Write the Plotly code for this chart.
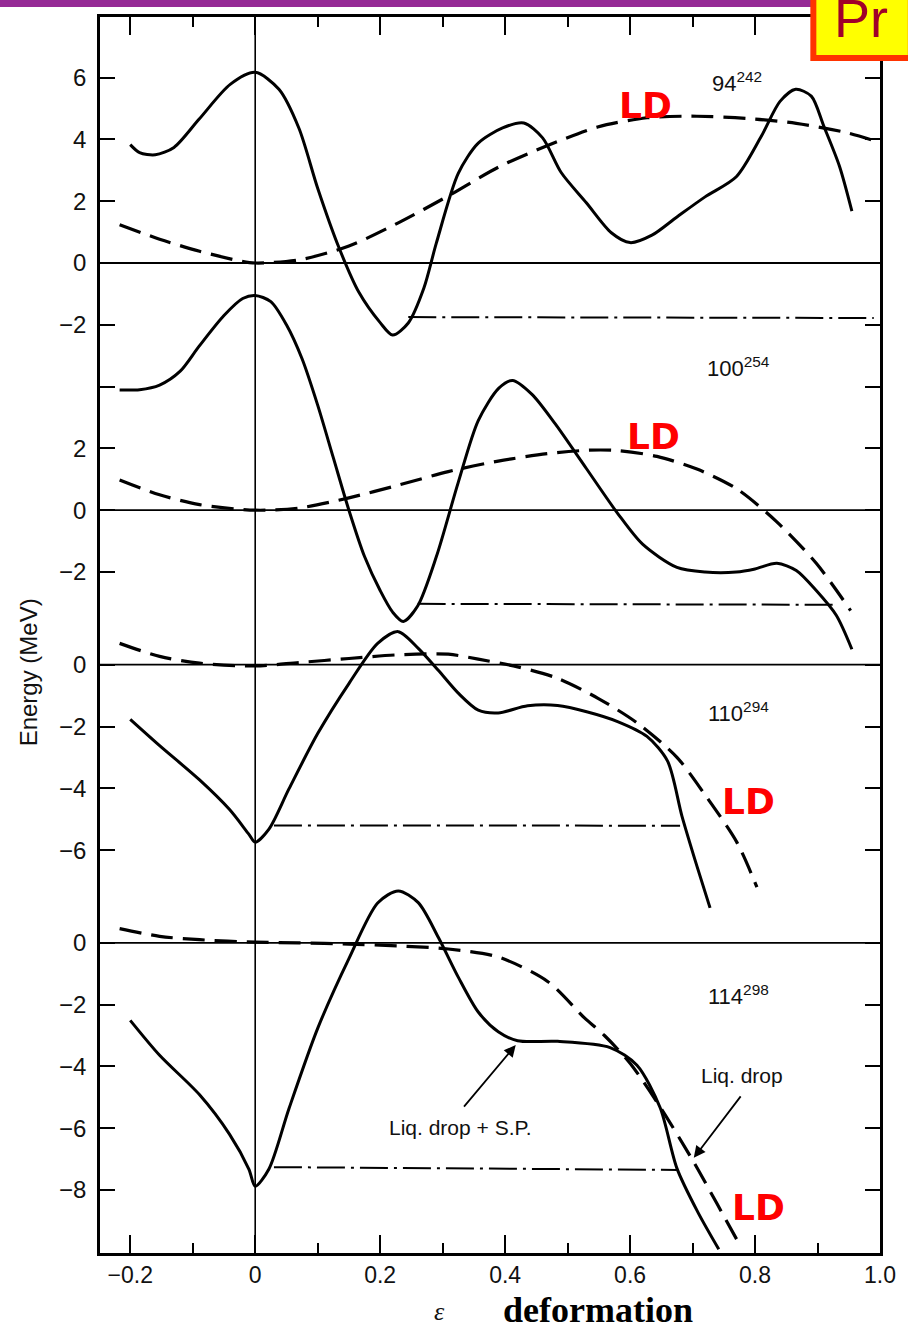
import plotly.graph_objects as go

# ---------------- data (x = deformation epsilon, E in MeV relative to each panel's zero) -------------
panel_names = ["94<sup>242</sup>", "100<sup>254</sup>", "110<sup>294</sup>", "114<sup>298</sup>"]
panel_offsets = [0, -8, -13, -22]
panel_ticks = [[6, 4, 2, 0, -2], [4, 2, 0, -2], [0, -2, -4, -6], [0, -2, -4, -6, -8]]
panel_ticklabels = [["6", "4", "2", "0", "−2"], ["", "2", "0", "−2"],
                    ["0", "−2", "−4", "−6"], ["0", "−2", "−4", "−6", "−8"]]

# Panel 1: 94-242
p1_sp_x = [-0.2, -0.185, -0.16, -0.13, -0.09, -0.04, 0.0, 0.038, 0.07, 0.10, 0.134, 0.166, 0.2, 0.22,
           0.245, 0.27, 0.29, 0.325, 0.357, 0.396, 0.43, 0.46, 0.49, 0.53, 0.57, 0.6, 0.635, 0.675,
           0.72, 0.77, 0.81, 0.84, 0.865, 0.89, 0.91, 0.935, 0.955]
p1_sp_e = [3.83, 3.57, 3.5, 3.74, 4.65, 5.78, 6.17, 5.62, 4.36, 2.42, 0.5, -0.95, -1.93, -2.33,
           -1.94, -0.81, 0.65, 2.9, 3.88, 4.37, 4.53, 4.05, 2.92, 1.95, 0.98, 0.66, 0.9, 1.49,
           2.14, 2.79, 4.1, 5.23, 5.62, 5.4, 4.43, 3.14, 1.68]
p1_ld_x = [-0.217, -0.153, -0.089, -0.025, 0.0, 0.07, 0.15, 0.229, 0.309, 0.389, 0.468, 0.548,
           0.627, 0.707, 0.787, 0.866, 0.946, 1.0]
p1_ld_e = [1.24, 0.77, 0.38, 0.07, 0.0, 0.1, 0.55, 1.3, 2.17, 3.1, 3.8, 4.4, 4.7, 4.75, 4.68,
           4.52, 4.22, 3.9]
p1_gs_x = [0.245, 0.99]
p1_gs_e = [-1.75, -1.78]

# Panel 2: 100-254
p2_sp_x = [-0.217, -0.185, -0.153, -0.12, -0.09, -0.05, -0.02, 0.0, 0.025, 0.05, 0.075, 0.1, 0.125,
           0.15, 0.175, 0.2, 0.22, 0.237, 0.26, 0.29, 0.325, 0.357, 0.39, 0.412, 0.443, 0.48,
           0.53, 0.58, 0.62, 0.675, 0.72, 0.77, 0.8, 0.835, 0.866, 0.898, 0.93, 0.955]
p2_sp_e = [3.89, 3.9, 4.05, 4.5, 5.3, 6.3, 6.85, 6.95, 6.75, 6.0, 4.9, 3.4, 1.7,
           0.0, -1.5, -2.6, -3.3, -3.6, -3.1, -1.5, 0.9, 2.9, 3.95, 4.2, 3.75, 2.8,
           1.35, -0.1, -1.1, -1.85, -2.0, -2.0, -1.9, -1.72, -1.95, -2.6, -3.4, -4.5]
p2_ld_x = [-0.217, -0.153, -0.089, 0.0, 0.07, 0.15, 0.229, 0.309, 0.389, 0.468, 0.532, 0.58,
           0.643, 0.707, 0.77, 0.834, 0.898, 0.953]
p2_ld_e = [0.98, 0.5, 0.18, 0.0, 0.07, 0.4, 0.81, 1.25, 1.59, 1.83, 1.94, 1.93, 1.74, 1.33,
           0.7, -0.36, -1.72, -3.25]
p2_gs_x = [0.26, 0.93]
p2_gs_e = [-3.03, -3.06]

# Panel 3: 110-294
p3_sp_x = [-0.2, -0.153, -0.089, -0.041, -0.01, 0.0, 0.022, 0.054, 0.1, 0.15, 0.196, 0.229,
           0.261, 0.293, 0.325, 0.357, 0.389, 0.436, 0.484, 0.532, 0.58, 0.627, 0.66, 0.683,
           0.707, 0.728]
p3_sp_e = [-1.77, -2.62, -3.73, -4.69, -5.49, -5.74, -5.32, -4.02, -2.23, -0.61, 0.69, 1.07,
           0.53, -0.18, -0.92, -1.47, -1.56, -1.33, -1.32, -1.53, -1.84, -2.32, -3.12, -4.9,
           -6.52, -7.87]
p3_ld_x = [-0.217, -0.153, -0.089, 0.0, 0.07, 0.15, 0.229, 0.309, 0.357, 0.42, 0.484, 0.548,
           0.611, 0.675, 0.723, 0.771, 0.803]
p3_ld_e = [0.69, 0.27, 0.05, -0.04, 0.07, 0.2, 0.32, 0.34, 0.18, -0.07, -0.44, -1.08, -1.88,
           -3.0, -4.3, -5.75, -7.2]
p3_gs_x = [0.03, 0.68]
p3_gs_e = [-5.2, -5.21]

# Panel 4: 114-298
p4_sp_x = [-0.2, -0.153, -0.089, -0.041, -0.01, 0.0, 0.022, 0.054, 0.1, 0.15, 0.196, 0.229,
           0.261, 0.293, 0.325, 0.357, 0.389, 0.42, 0.484, 0.568, 0.611, 0.648, 0.675, 0.708,
           0.742]
p4_sp_e = [-2.51, -3.64, -4.92, -6.2, -7.33, -7.88, -7.32, -5.37, -2.77, -0.51, 1.29, 1.68,
           1.3, 0.18, -1.11, -2.24, -2.88, -3.17, -3.19, -3.39, -3.96, -5.33, -7.3, -8.7,
           -9.92]
p4_ld_x = [-0.217, -0.153, -0.089, 0.0, 0.07, 0.15, 0.229, 0.309, 0.389, 0.468, 0.527, 0.559,
           0.6, 0.648, 0.702, 0.739, 0.774]
p4_ld_e = [0.46, 0.21, 0.1, 0.02, 0.0, -0.04, -0.1, -0.2, -0.46, -1.25, -2.43, -3.0, -3.9,
           -5.31, -7.1, -8.44, -9.72]
p4_gs_x = [0.03, 0.675]
p4_gs_e = [-7.26, -7.35]

x_ticks = [-0.2, 0.0, 0.2, 0.4, 0.6, 0.8, 1.0]
x_ticklabels = ["−0.2", "0", "0.2", "0.4", "0.6", "0.8", "1.0"]
x_minor = [-0.1, 0.1, 0.3, 0.5, 0.7, 0.9]

ld_label_pos = [(0.624, 5.11), (0.637, 2.37), (0.79, -4.44), (0.806, -8.58)]
name_label_pos = [(0.771, 5.86), (0.774, 4.63), (0.774, -1.53), (0.774, -1.69)]

solid = [(p1_sp_x, p1_sp_e), (p2_sp_x, p2_sp_e), (p3_sp_x, p3_sp_e), (p4_sp_x, p4_sp_e)]
ldrop = [(p1_ld_x, p1_ld_e), (p2_ld_x, p2_ld_e), (p3_ld_x, p3_ld_e), (p4_ld_x, p4_ld_e)]
gstate = [(p1_gs_x, p1_gs_e), (p2_gs_x, p2_gs_e), (p3_gs_x, p3_gs_e), (p4_gs_x, p4_gs_e)]

# ---------------- figure -------------
W, H = 908, 1328
ML, MR, MT, MB = 100, 24, 17, 75
fig = go.Figure()

for k in range(4):
    off = panel_offsets[k]
    sx, se = solid[k]
    lx, le = ldrop[k]
    gx, ge = gstate[k]
    fig.add_trace(go.Scatter(x=sx, y=[e + off for e in se], mode="lines",
                             line=dict(color="black", width=3, shape="spline", smoothing=0.8),
                             showlegend=False, hoverinfo="skip"))
    fig.add_trace(go.Scatter(x=lx, y=[e + off for e in le], mode="lines",
                             line=dict(color="black", width=3.2, dash="22px,10px", shape="spline",
                                       smoothing=0.8),
                             showlegend=False, hoverinfo="skip"))
    fig.add_trace(go.Scatter(x=gx, y=[e + off for e in ge], mode="lines",
                             line=dict(color="black", width=2, dash="28px,6px,3px,6px"),
                             showlegend=False, hoverinfo="skip"))
    # zero line of panel
    fig.add_shape(type="line", xref="paper", yref="y", x0=0, x1=1, y0=off, y1=off,
                  line=dict(color="black", width=1.8), layer="below")
    lxp, lyp = ld_label_pos[k]
    fig.add_annotation(x=lxp, y=lyp + off, xref="x", yref="y", text="<b>LD</b>", showarrow=False,
                       xanchor="center", yanchor="middle",
                       font=dict(family="DejaVu Sans", size=36, color="#ff0000"))
    nxp, nyp = name_label_pos[k]
    fig.add_annotation(x=nxp, y=nyp + off, xref="x", yref="y", text=panel_names[k], showarrow=False,
                       xanchor="center", yanchor="middle",
                       font=dict(family="Liberation Sans", size=22, color="#111"))

# vertical line at epsilon = 0
fig.add_shape(type="line", xref="x", yref="paper", x0=0, x1=0, y0=0, y1=1,
              line=dict(color="black", width=1.6), layer="below")

# dummy trace for top/right axes
fig.add_trace(go.Scatter(x=[-0.2], y=[0], xaxis="x2", yaxis="y2", mode="lines",
                         line=dict(width=0), showlegend=False, hoverinfo="skip"))

# y ticks (global coordinates)
y_tickvals, y_ticktext = [], []
for k in range(4):
    for t, lab in zip(panel_ticks[k], panel_ticklabels[k]):
        v = t + panel_offsets[k]
        if v not in y_tickvals:
            y_tickvals.append(v)
            y_ticktext.append(lab)

px_per_unit_y = 30.9
plot_h = H - MT - MB
y_top = (263 - MT) / px_per_unit_y
y_bot = y_top - plot_h / px_per_unit_y
tickfont = dict(family="Liberation Sans", size=24, color="#111")
xtickfont = dict(family="Liberation Sans", size=23, color="#111")

fig.update_layout(
    width=W, height=H, margin=dict(l=ML, r=MR, t=MT, b=MB),
    paper_bgcolor="white", plot_bgcolor="white", showlegend=False,
    xaxis=dict(range=[-0.2484, 1.0], showgrid=False, zeroline=False, showline=True,
               linecolor="black", linewidth=2.5, ticks="inside", ticklen=18, tickwidth=2,
               tickcolor="black", tickmode="array", tickvals=x_ticks, ticktext=x_ticklabels,
               tickfont=xtickfont, ticklabelstandoff=0,
               minor=dict(ticks="inside", ticklen=10, tickwidth=2, tickcolor="black",
                          tickmode="array", tickvals=x_minor, showgrid=False)),
    xaxis2=dict(overlaying="x", side="top", matches="x", showgrid=False, zeroline=False,
                showline=True, linecolor="black", linewidth=2.5, ticks="inside", ticklen=18,
                tickwidth=2, tickcolor="black", tickmode="array", tickvals=x_ticks,
                showticklabels=False,
                minor=dict(ticks="inside", ticklen=10, tickwidth=2, tickcolor="black",
                           tickmode="array", tickvals=x_minor, showgrid=False)),
    yaxis=dict(range=[y_bot, y_top], showgrid=False, zeroline=False, showline=True,
               linecolor="black", linewidth=2.5, ticks="inside", ticklen=15, tickwidth=2,
               tickcolor="black", tickmode="array", tickvals=y_tickvals, ticktext=y_ticktext,
               tickfont=tickfont, ticklabelstandoff=6),
    yaxis2=dict(overlaying="y", side="right", matches="y", showgrid=False, zeroline=False,
                showline=True, linecolor="black", linewidth=2.5, ticks="inside", ticklen=15,
                tickwidth=2, tickcolor="black", tickmode="array", tickvals=y_tickvals,
                showticklabels=False),
)

def px2paper_x(px):
    return (px - ML) / (W - ML - MR)

def px2paper_y(py):
    return (H - MB - py) / plot_h

# axis titles
fig.add_annotation(x=px2paper_x(29), y=px2paper_y(672), xref="paper", yref="paper",
                   xanchor="center", yanchor="middle",
                   text="Energy (MeV)", textangle=-90, showarrow=False,
                   font=dict(family="Liberation Sans", size=24, color="#111"))
fig.add_annotation(x=px2paper_x(441), y=px2paper_y(1311), xref="paper", yref="paper",
                   xanchor="center", yanchor="middle",
                   text="<i>ε</i>", showarrow=False,
                   font=dict(family="Liberation Serif", size=26, color="#111"))
fig.add_annotation(x=px2paper_x(601), y=px2paper_y(1310), xref="paper", yref="paper",
                   xanchor="center", yanchor="middle",
                   text="<b>deformation</b>", showarrow=False,
                   font=dict(family="Liberation Serif", size=36, color="black"))

# curve labels with arrows
fig.add_annotation(x=0.779, y=-26.28, xref="x", yref="y", text="Liq. drop", showarrow=False,
                   xanchor="center", yanchor="middle",
                   font=dict(family="Liberation Sans", size=21, color="#111"))
fig.add_annotation(x=0.328, y=-27.99, xref="x", yref="y", text="Liq. drop + S.P.", showarrow=False,
                   xanchor="center", yanchor="middle",
                   font=dict(family="Liberation Sans", size=21, color="#111"))
fig.add_annotation(x=0.417, y=-25.31, xref="x", yref="y", ax=-53, ay=63, text="", showarrow=True,
                   arrowhead=2, arrowsize=1.3, arrowwidth=1.8, arrowcolor="black")
fig.add_annotation(x=0.702, y=-28.96, xref="x", yref="y", ax=48, ay=-63, text="", showarrow=True,
                   arrowhead=2, arrowsize=1.3, arrowwidth=1.8, arrowcolor="black")

# slide decorations: purple header bar and "Pr" box
fig.add_shape(type="rect", xref="paper", yref="paper", x0=px2paper_x(-5), x1=px2paper_x(816),
              y0=px2paper_y(7), y1=px2paper_y(-5), fillcolor="#962a96", line=dict(width=0))
fig.add_shape(type="rect", xref="paper", yref="paper", x0=px2paper_x(817), x1=px2paper_x(915),
              y0=px2paper_y(58), y1=px2paper_y(-10), fillcolor="#ffff00",
              line=dict(color="#ff3300", width=6))
fig.add_annotation(x=px2paper_x(836), y=px2paper_y(50), xref="paper", yref="paper",
                   xanchor="left", yanchor="bottom", text="Pr", showarrow=False,
                   font=dict(family="Liberation Sans", size=54, color="#a0002a"))

fig.write_html("out.html")
